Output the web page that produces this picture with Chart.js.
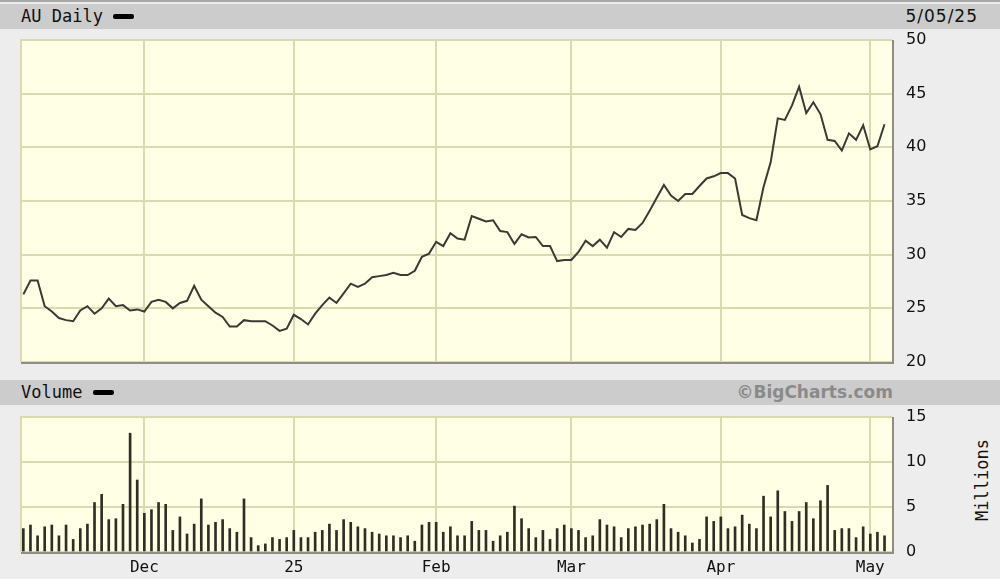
<!DOCTYPE html>
<html>
<head>
<meta charset="utf-8">
<script src="https://cdn.jsdelivr.net/npm/chart.js@4.4.1/dist/chart.umd.min.js"></script>
<style>
  body { margin:0; width:1000px; height:579px; background:#ededed; position:relative; overflow:hidden;
         font-family:"DejaVu Sans Mono", monospace; color:#111; }
  .topline { position:absolute; left:0; top:0; width:1000px; height:2px; background:#a8a8a8; }
  .bar { position:absolute; left:0; width:1000px; height:25px; background:#cccccc; }
  .lbl { position:absolute; font-size:17px; line-height:25px; white-space:nowrap; }
  .dash { position:absolute; width:21px; height:5px; background:#000; border-radius:2px; }
  canvas { position:absolute; left:0; }
</style>
</head>
<body>
<div class="topline"></div>
<div class="bar" style="top:4px"></div>
<div class="lbl" style="left:21px;top:4px">AU Daily</div>
<div class="dash" style="left:113px;top:14px"></div>
<div class="lbl" style="right:22px;top:4px;font-family:'DejaVu Sans';font-size:17px;letter-spacing:1px">5/05/25</div>

<div class="bar" style="top:380px"></div>
<div class="lbl" style="left:21px;top:380px">Volume</div>
<div class="dash" style="left:93px;top:390px"></div>
<div class="lbl" style="right:107px;top:380px;font-family:'DejaVu Sans';font-weight:bold;font-size:17px;color:#8a8a8a">©BigCharts.com</div>
<div class="lbl" style="left:982px;top:480px;transform:translate(-50%,-50%) rotate(-90deg)">Millions</div>

<canvas id="price" width="1000" height="390" style="top:0"></canvas>
<canvas id="volume" width="1000" height="204" style="top:375px"></canvas>

<script>
// trading days shown, per month
const tradingDays = {
    '2024-11': [6, 7, 8, 11, 12, 13, 14, 15, 18, 19, 20, 21, 22, 25, 26, 27, 29],
    '2024-12': [2, 3, 4, 5, 6, 9, 10, 11, 12, 13, 16, 17, 18, 19, 20, 23, 24, 26, 27, 30, 31],
    '2025-01': [2, 3, 6, 7, 8, 10, 13, 14, 15, 16, 17, 21, 22, 23, 24, 27, 28, 29, 30, 31],
    '2025-02': [3, 4, 5, 6, 7, 10, 11, 12, 13, 14, 18, 19, 20, 21, 24, 25, 26, 27, 28],
    '2025-03': [3, 4, 5, 6, 7, 10, 11, 12, 13, 14, 17, 18, 19, 20, 21, 24, 25, 26, 27, 28, 31],
    '2025-04': [1, 2, 3, 4, 7, 8, 9, 10, 11, 14, 15, 16, 17, 21, 22, 23, 24, 25, 28, 29, 30],
    '2025-05': [1, 2, 5]
};

// AU daily close
const priceClose = [
    26.3, 27.6, 27.6, 25.2, 24.7, 24.1, 23.9, 23.8, 24.8, 25.2,
    24.5, 25.0, 25.9, 25.2, 25.3, 24.8, 24.9, 24.7, 25.6, 25.8,
    25.6, 25.0, 25.5, 25.7, 27.1, 25.8, 25.2, 24.6, 24.2, 23.3,
    23.3, 23.9, 23.8, 23.8, 23.8, 23.4, 22.9, 23.1, 24.4, 24.0,
    23.5, 24.5, 25.3, 26.0, 25.5, 26.4, 27.3, 27.0, 27.3, 27.9,
    28.0, 28.1, 28.3, 28.1, 28.1, 28.5, 29.8, 30.1, 31.2, 30.8,
    32.0, 31.5, 31.4, 33.6, 33.35, 33.1, 33.2, 32.2, 32.1, 31.0,
    31.9, 31.6, 31.65, 30.8, 30.8, 29.4, 29.5, 29.5, 30.25, 31.3,
    30.8, 31.4, 30.65, 32.1, 31.65, 32.4, 32.3, 32.95, 34.1, 35.3,
    36.5, 35.5, 35.0, 35.65, 35.65, 36.4, 37.1, 37.3, 37.6, 37.6,
    37.1, 33.7, 33.4, 33.2, 36.3, 38.6, 42.7, 42.55, 43.9, 45.65,
    43.2, 44.2, 43.1, 40.7, 40.6, 39.7, 41.3, 40.7, 42.05, 39.8,
    40.1, 42.15
];

// volume, millions of shares
const volumeMillions = [
    2.6, 3.0, 1.8, 2.8, 3.0, 1.8, 3.0, 1.4, 2.6, 3.1,
    5.5, 6.4, 3.6, 3.7, 5.3, 13.2, 8.0, 4.3, 4.7, 5.5,
    5.3, 2.4, 3.9, 2.0, 3.1, 5.9, 3.0, 3.3, 3.6, 2.6,
    2.2, 5.9, 1.6, 0.7, 0.9, 1.6, 1.4, 1.6, 2.4, 1.6,
    1.6, 2.2, 2.4, 3.1, 2.4, 3.6, 3.3, 2.8, 2.6, 2.2,
    2.0, 1.8, 1.8, 1.6, 1.8, 1.2, 3.0, 3.3, 3.3, 2.2,
    2.8, 1.8, 1.8, 3.4, 2.4, 2.4, 1.2, 1.8, 2.2, 5.1,
    3.7, 2.6, 1.6, 2.4, 1.4, 2.6, 3.0, 2.6, 2.4, 1.6,
    1.8, 3.6, 3.0, 2.8, 1.6, 2.6, 2.8, 3.0, 3.1, 3.6,
    5.3, 2.6, 2.2, 1.8, 1.0, 1.4, 3.9, 3.4, 3.9, 2.6,
    2.8, 4.1, 3.1, 2.6, 6.2, 3.9, 6.8, 4.5, 3.4, 4.5,
    5.5, 3.7, 5.7, 7.4, 2.4, 2.6, 2.6, 1.6, 2.8, 2.0,
    2.2, 1.8
];

const monthLabels = ['Dec', '25', 'Feb', 'Mar', 'Apr', 'May'];

// flatten dates, find first trading day of each month
const dates = [];
Object.keys(tradingDays).forEach(function (m) {
    tradingDays[m].forEach(function (d) { dates.push(m + '-' + String(d).padStart(2, '0')); });
});
const monthStarts = [];
dates.forEach(function (d, i) {
    if (i > 0 && d.slice(0, 7) !== dates[i - 1].slice(0, 7)) monthStarts.push(i);
});

const gridColor = '#dadab0';
const xMin = -0.33;
const xMax = dates.length + 0.05;

// yellow plot area + shadow edge
const plotBg = {
    id: 'plotBg',
    beforeDraw(chart) {
        const a = chart.chartArea, ctx = chart.ctx;
        ctx.save();
        ctx.fillStyle = '#ffffe6';
        ctx.fillRect(a.left, a.top, a.right - a.left, a.bottom - a.top);
        ctx.restore();
    },
    afterDraw(chart) {
        const a = chart.chartArea, ctx = chart.ctx;
        ctx.save();
        ctx.strokeStyle = gridColor;
        ctx.lineWidth = 2;
        ctx.beginPath();
        ctx.moveTo(a.left, a.bottom);
        ctx.lineTo(a.left, a.top);
        ctx.lineTo(a.right, a.top);
        ctx.stroke();
        ctx.strokeStyle = '#8e8e86';
        ctx.beginPath();
        ctx.moveTo(a.left, a.bottom + 1);
        ctx.lineTo(a.right + 1, a.bottom + 1);
        ctx.lineTo(a.right + 1, a.top);
        ctx.stroke();
        ctx.restore();
    }
};

function xScale(showLabels) {
    return {
        type: 'linear',
        min: xMin,
        max: xMax,
        offset: false,
        afterBuildTicks: function (scale) {
            scale.ticks = monthStarts.map(function (v) { return { value: v }; });
        },
        afterFit: function (scale) { scale.height = showLabels ? 27 : 0; },
        ticks: {
            display: showLabels,
            autoSkip: false,
            maxRotation: 0,
            padding: 6,
            color: '#111',
            font: { family: 'DejaVu Sans Mono', size: 16 },
            callback: function (v) { return monthLabels[monthStarts.indexOf(v)]; }
        },
        grid: { color: gridColor, lineWidth: 2, drawTicks: false, offset: false },
        border: { display: false }
    };
}

function yScale(min, max) {
    return {
        position: 'right',
        min: min,
        max: max,
        afterFit: function (scale) { scale.width = 108; },
        ticks: {
            stepSize: 5,
            padding: 14,
            color: '#111',
            font: { family: 'DejaVu Sans', size: 16 }
        },
        grid: { color: gridColor, lineWidth: 2, drawTicks: false },
        border: { display: false }
    };
}

// Price chart
const priceChart = new Chart(document.getElementById('price'), {
    type: 'line',
    data: {
        datasets: [{
            data: priceClose.map(function (v, i) { return { x: i, y: v }; }),
            borderColor: '#3a3a34',
            borderWidth: 2,
            pointRadius: 0,
            tension: 0
        }]
    },
    options: {
        responsive: false,
        animation: false,
        layout: { padding: { left: 21, top: 40, right: 0, bottom: 28 } },
        plugins: { legend: { display: false }, tooltip: { enabled: false } },
        scales: { x: xScale(false), y: yScale(20, 50) }
    },
    plugins: [plotBg]
});

// Volume chart
const volumeChart = new Chart(document.getElementById('volume'), {
    type: 'bar',
    data: {
        datasets: [{
            data: volumeMillions.map(function (v, i) { return { x: i, y: v }; }),
            backgroundColor: '#2e2e24',
            barThickness: 2
        }]
    },
    options: {
        responsive: false,
        animation: false,
        layout: { padding: { left: 21, top: 42, right: 0, bottom: 0 } },
        plugins: { legend: { display: false }, tooltip: { enabled: false } },
        scales: { x: xScale(true), y: yScale(0, 15) }
    },
    plugins: [plotBg]
});
</script>
</body>
</html>
